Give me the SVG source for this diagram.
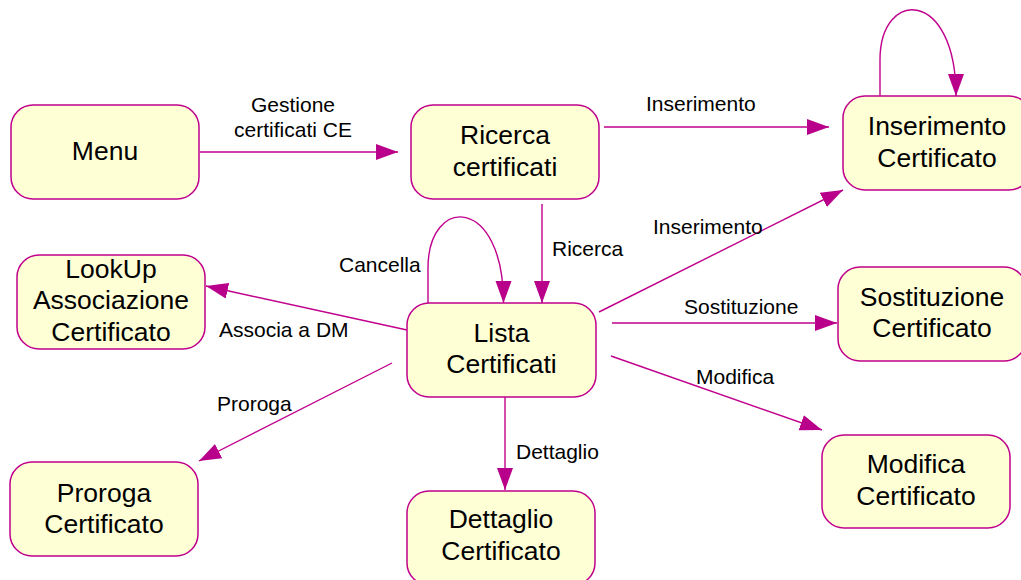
<svg xmlns="http://www.w3.org/2000/svg" width="1021" height="580" viewBox="0 0 1021 580">
<defs>
<style>
.node rect{fill:#FFFFD6;stroke:#C0008C;stroke-width:1.5}
.node text{font-family:"Liberation Sans",Arial,sans-serif;font-size:26.5px;fill:#000;text-anchor:middle}
.lbl{font-family:"Liberation Sans",Arial,sans-serif;font-size:21px;fill:#000}
#connectors path{fill:none;stroke:#C0008C;stroke-width:1.4;marker-end:url(#arr)}
</style>
<marker id="arr" markerUnits="userSpaceOnUse" markerWidth="23" markerHeight="17" refX="22" refY="8" orient="auto">
<path d="M0,0 L22,8 L0,16 z" fill="#B8008A"/>
</marker>
</defs>
<rect width="1021" height="580" fill="#fff"/>
<g id="connectors">
<path d="M200,152 L398,152"/>
<path d="M604,127 L829,127"/>
<path d="M542,204 L542,303"/>
<path d="M428,303 V268 C428,195 503.5,195 503.5,303"/>
<path d="M407,330 L206,286"/>
<path d="M392,363 L199,461"/>
<path d="M505,397 L505,490"/>
<path d="M599,312 L843,190"/>
<path d="M612,323 L837,323"/>
<path d="M611,356 L822,430"/>
<path d="M880,96 V60 C880,-12 956,-12 956,96"/>
</g>
<g id="labels">
<text class="lbl" x="293" y="112" text-anchor="middle">Gestione</text>
<text class="lbl" x="293" y="137" text-anchor="middle">certificati CE</text>
<text class="lbl" x="646" y="111">Inserimento</text>
<text class="lbl" x="552" y="256">Ricerca</text>
<text class="lbl" x="339" y="272">Cancella</text>
<text class="lbl" x="653" y="234">Inserimento</text>
<text class="lbl" x="219" y="337">Associa a DM</text>
<text class="lbl" x="684" y="314">Sostituzione</text>
<text class="lbl" x="696" y="384">Modifica</text>
<text class="lbl" x="217" y="411">Proroga</text>
<text class="lbl" x="516" y="459">Dettaglio</text>
</g>
<g id="menu" class="node"><rect x="11" y="105" width="188" height="94" rx="22"/><text x="105" y="160">Menu</text></g>
<g id="ricerca" class="node"><rect x="411" y="105" width="188" height="94" rx="22"/><text x="505" y="144">Ricerca</text><text x="505" y="176">certificati</text></g>
<g id="inserimento" class="node"><rect x="843" y="96" width="188" height="94" rx="22"/><text x="937" y="135">Inserimento</text><text x="937" y="167">Certificato</text></g>
<g id="lookup" class="node"><rect x="17" y="255" width="188" height="94" rx="22"/><text x="111" y="278">LookUp</text><text x="111" y="309">Associazione</text><text x="111" y="341">Certificato</text></g>
<g id="lista" class="node"><rect x="407" y="303" width="189" height="94" rx="22"/><text x="501.5" y="342">Lista</text><text x="501.5" y="373">Certificati</text></g>
<g id="sostituzione" class="node"><rect x="838" y="267" width="188" height="94" rx="22"/><text x="932" y="306">Sostituzione</text><text x="932" y="337">Certificato</text></g>
<g id="modifica" class="node"><rect x="822" y="435" width="188" height="93" rx="22"/><text x="916" y="473">Modifica</text><text x="916" y="505">Certificato</text></g>
<g id="proroga" class="node"><rect x="10" y="462" width="188" height="94" rx="22"/><text x="104" y="502">Proroga</text><text x="104" y="533">Certificato</text></g>
<g id="dettaglio" class="node"><rect x="407" y="491" width="188" height="94" rx="22"/><text x="501" y="528">Dettaglio</text><text x="501" y="560">Certificato</text></g>
</svg>
